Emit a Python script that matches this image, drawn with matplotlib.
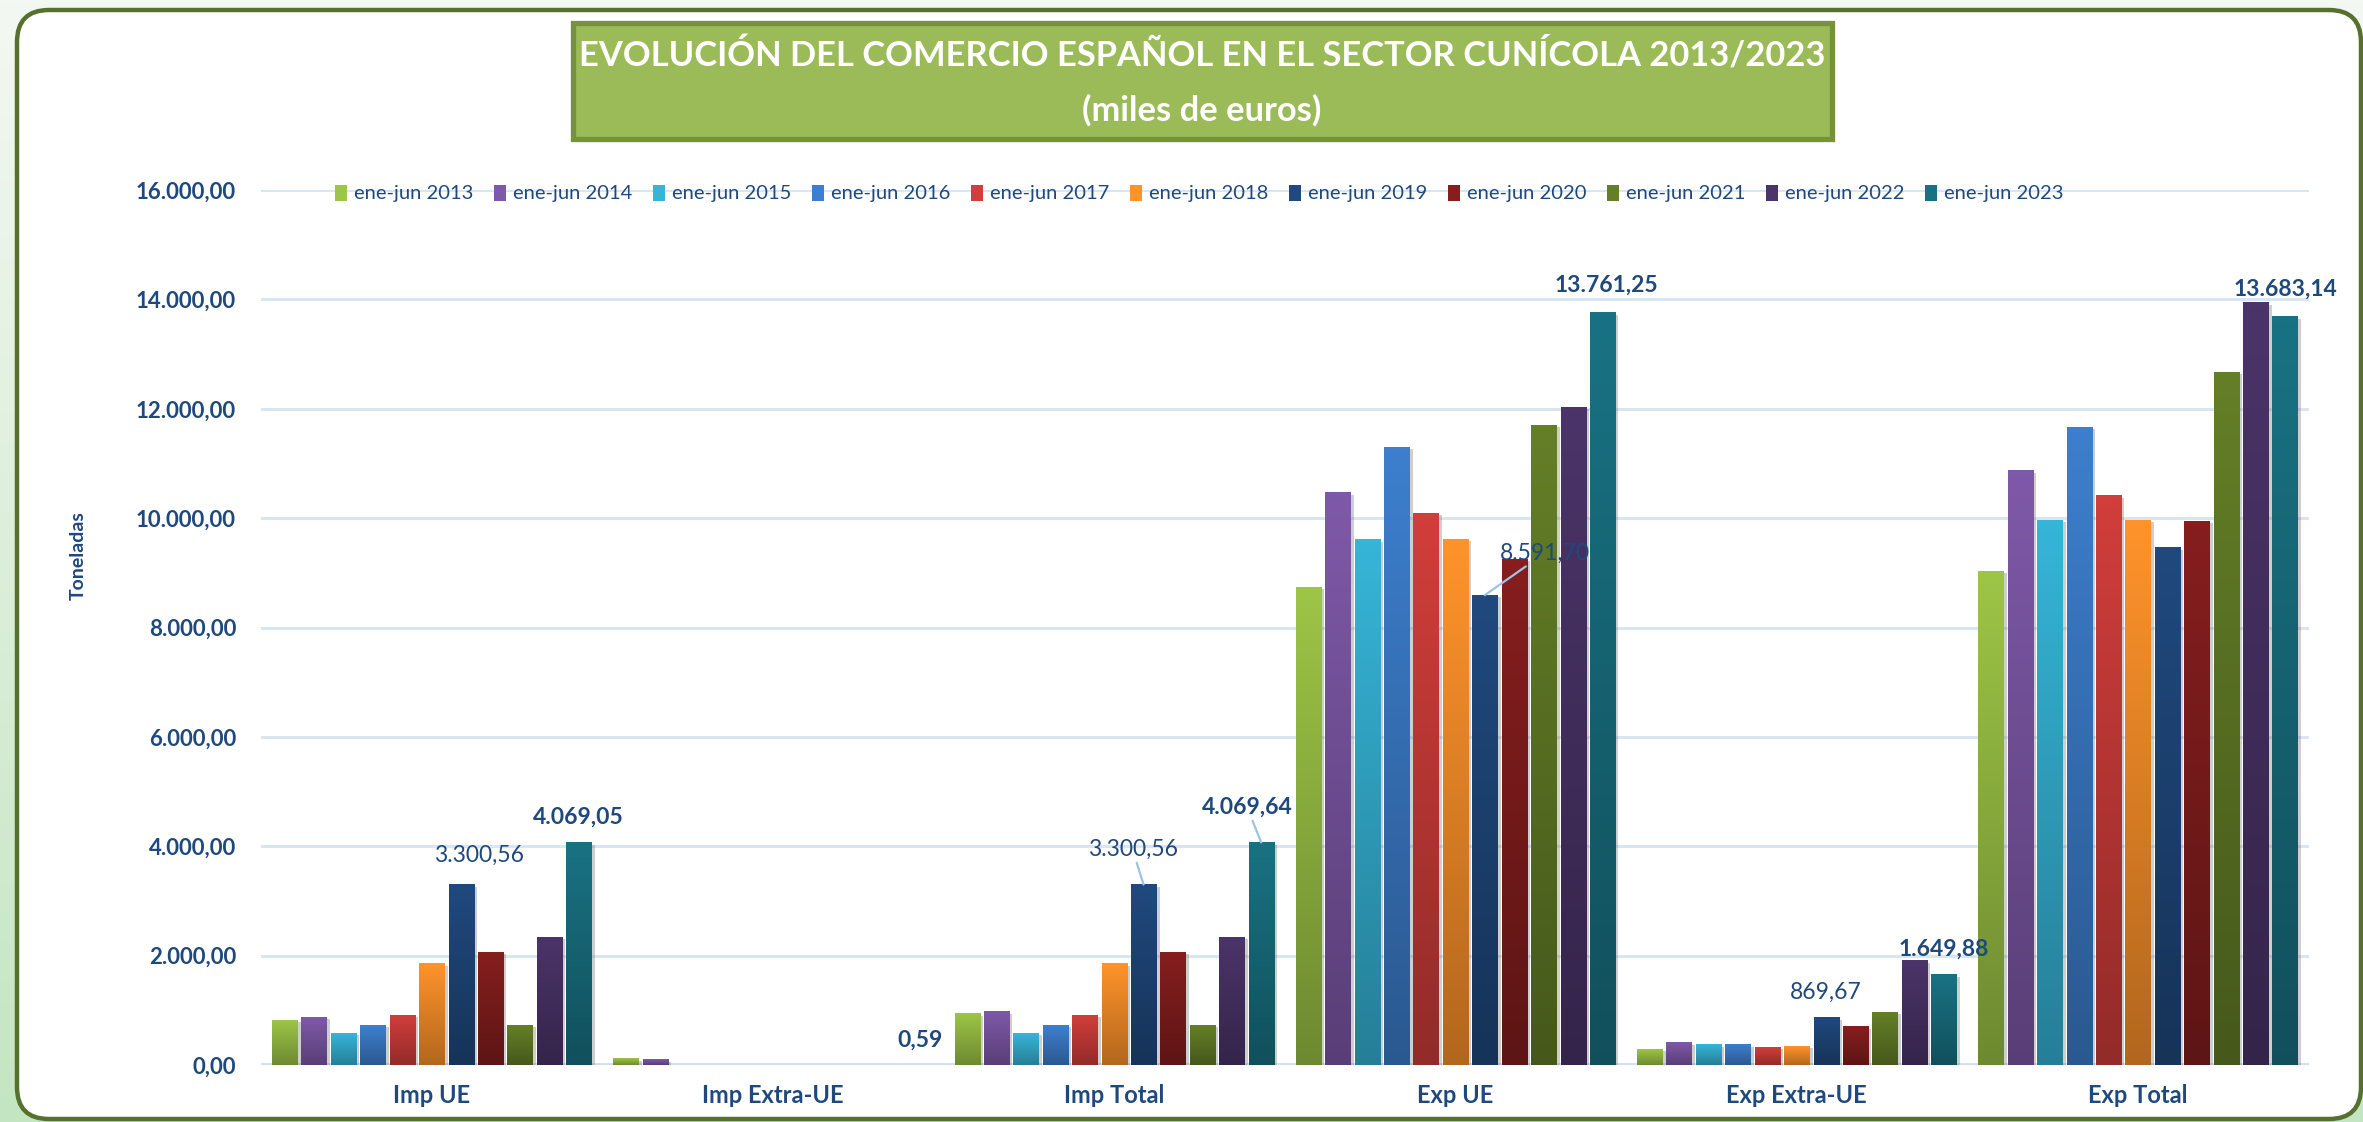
import numpy as np
import matplotlib
matplotlib.use('Agg')
import matplotlib.pyplot as plt
from matplotlib.patches import FancyBboxPatch, Rectangle
import matplotlib.patheffects as pe
from matplotlib.colors import to_rgb
from matplotlib.ticker import FuncFormatter

# ---------------- data ----------------
categories = ['Imp UE', 'Imp Extra-UE', 'Imp Total', 'Exp UE', 'Exp Extra-UE', 'Exp Total']
series_labels = ['ene-jun 2013', 'ene-jun 2014', 'ene-jun 2015', 'ene-jun 2016', 'ene-jun 2017',
                 'ene-jun 2018', 'ene-jun 2019', 'ene-jun 2020', 'ene-jun 2021', 'ene-jun 2022',
                 'ene-jun 2023']
imp_ue    = [820, 875, 585, 731, 914, 1847, 3300.56, 2066, 731, 2340, 4069.05]
imp_extra = [115, 95, 0, 0, 0, 0, 0, 0, 0, 0, 0.59]
imp_total = [935, 970, 585, 731, 914, 1847, 3300.56, 2066, 731, 2340, 4069.64]
exp_ue    = [8740, 10460, 9610, 11300, 10090, 9615, 8591.70, 9252, 11700, 12030, 13761.25]
exp_extra = [290, 410, 366, 366, 329, 347, 869.67, 695, 969, 1902, 1649.88]
exp_total = [9030, 10870, 9965, 11660, 10410, 9960, 9461.37, 9940, 12665, 13935, 13683.14]
yticks = [0, 2000, 4000, 6000, 8000, 10000, 12000, 14000, 16000]

title1 = 'EVOLUCIÓN DEL COMERCIO ESPAÑOL EN EL SECTOR CUNÍCOLA 2013/2023'
title2 = '(miles de euros)'
ylabel = 'Toneladas'

# labelled bars: (category, series, bold, dx px, dy px, leader line)
label_specs = [(0, 6, False, 18, 29, False), (0, 10, True, 0, 25, False),
               (1, 10, True, 0, 25, False),
               (2, 6, False, -11, 35, True), (2, 10, True, -14, 35, True),
               (3, 10, True, 4, 27, False), (3, 6, False, 60, 42, True),
               (4, 6, False, 0, 25, False), (4, 10, True, 0, 26, False),
               (5, 10, True, 0, 28, False)]

values = np.array([imp_ue, imp_extra, imp_total, exp_ue, exp_extra, exp_total])

# ---------------- style ----------------
top_colors = ['#9DC546', '#7F59A9', '#36B5D8', '#3D7FCE', '#D13E3B', '#FF932B',
              '#20497E', '#861E1E', '#647F27', '#4B3469', '#197283']
navy = '#1F497D'
FONT = 'Lato'
plt.rcParams['font.family'] = [FONT, 'DejaVu Sans']

W, H = 2363, 1122
fig = plt.figure(figsize=(W / 100, H / 100), dpi=100)
fig.patch.set_facecolor('white')

# background layer in pixel coordinates
bg = fig.add_axes([0, 0, 1, 1], zorder=-10)
bg.set_xlim(0, W)
bg.set_ylim(H, 0)
bg.axis('off')
c_top = np.array(to_rgb('#F4F8F2'))
c_bot = np.array(to_rgb('#C4E5C2'))
t = np.linspace(0, 1, 256)[:, None, None]
grad = c_top * (1 - t) + c_bot * t
grad = np.repeat(grad, 2, axis=1)
bg.imshow(grad, extent=(0, W, H, 0), aspect='auto', zorder=0)
frame = FancyBboxPatch((17, 10), 2344, 1109, boxstyle='round,pad=0,rounding_size=32',
                       facecolor='white', edgecolor='#58702E', linewidth=3.2, zorder=1)
bg.add_patch(frame)
tbox = Rectangle((573, 23), 1259, 116, facecolor='#9BBB59', edgecolor='#76923C',
                 linewidth=3.8, zorder=2)
bg.add_patch(tbox)
bg.text(1202, 55, title1, color='white', fontsize=24.8, fontweight='bold',
        ha='center', va='center', zorder=3)
bg.text(1202, 110, title2, color='white', fontsize=24.8, fontweight='bold',
        ha='center', va='center', zorder=3)

# main axes
ax_left, ax_right = 261, 2308.5
ax_top, ax_bot = 190, 1065
ax = fig.add_axes([ax_left / W, 1 - ax_bot / H, (ax_right - ax_left) / W, (ax_bot - ax_top) / H])
ax.set_facecolor('none')
for s in ax.spines.values():
    s.set_visible(False)
ax.set_axisbelow(True)

n_cat, n_ser = values.shape
pitch = 0.0862
bw = 0.0733
xc = np.arange(n_cat)
shadow = [pe.SimplePatchShadow(offset=(2.5, -1.5), shadow_rgbFace='0.45', alpha=0.35), pe.Normal()]
bar_centers = {}
for j in range(n_ser):
    xs = xc + (j - (n_ser - 1) / 2) * pitch
    top = np.array(to_rgb(top_colors[j]))
    bot = top * 0.70
    bars = ax.bar(xs, values[:, j], width=bw, color=top_colors[j], zorder=2,
                  path_effects=shadow, linewidth=0)
    for i, b in enumerate(bars):
        bar_centers[(i, j)] = xs[i]
        h = values[i, j]
        if h <= 5:
            continue
        g = np.linspace(0, 1, 64)[:, None, None]
        img = bot * (1 - g) + top * g
        ax.imshow(img, extent=(b.get_x(), b.get_x() + bw, 0, h), origin='lower',
                  aspect='auto', zorder=3, interpolation='bilinear')

ax.set_xlim(-0.5, n_cat - 0.5)
ax.set_ylim(0, 16000)
ax.set_yticks(yticks)
ax.yaxis.set_major_formatter(FuncFormatter(
    lambda v, p: f'{v:,.2f}'.replace(',', 'X').replace('.', ',').replace('X', '.')))
ax.yaxis.grid(True, color='#DAE5F2', linewidth=2.2)
ax.axhline(0, color='#D2DFF0', linewidth=3.5, zorder=1.5)
ax.set_xticks(xc)
ax.set_xticklabels(categories)
ax.tick_params(axis='y', length=0, pad=18, labelsize=16, labelcolor=navy)
ax.tick_params(axis='x', length=0, pad=14, labelsize=17, labelcolor=navy)
for lab in ax.get_yticklabels() + ax.get_xticklabels():
    lab.set_fontweight('bold')


def es_fmt(v):
    return f'{v:,.2f}'.replace(',', 'X').replace('.', ',').replace('X', '.')


for (ci, sj, bold, dx, dy, leader) in label_specs:
    v = values[ci, sj]
    kw = dict(xy=(bar_centers[(ci, sj)], v), xytext=(dx, dy), textcoords='offset pixels',
              ha='center', va='center', fontsize=16.5, color=navy,
              fontweight='bold' if bold else 'normal', zorder=6)
    if leader:
        kw['arrowprops'] = dict(arrowstyle='-', color='#9DC3E6', lw=1.6, shrinkA=0, shrinkB=0)
    ax.annotate(es_fmt(v), **kw)

# y label
fig.text(78 / W, 1 - 556 / H, ylabel, rotation=90, ha='center', va='center',
         fontsize=14, fontweight='bold', color=navy)

# legend (manual, drawn over gridline)
leg_x0, leg_pitch, leg_y = 335, 159, 193
for j, lab in enumerate(series_labels):
    x0 = leg_x0 + j * leg_pitch
    fig.add_artist(Rectangle((x0 / W, 1 - (leg_y + 7.5) / H), 12 / W, 15 / H,
                             transform=fig.transFigure, facecolor=top_colors[j],
                             edgecolor='none', zorder=5))
    fig.text((x0 + 19) / W, 1 - leg_y / H, lab, ha='left', va='center',
             fontsize=14.5, color=navy, zorder=5)

fig.savefig('out.png', dpi=100)
